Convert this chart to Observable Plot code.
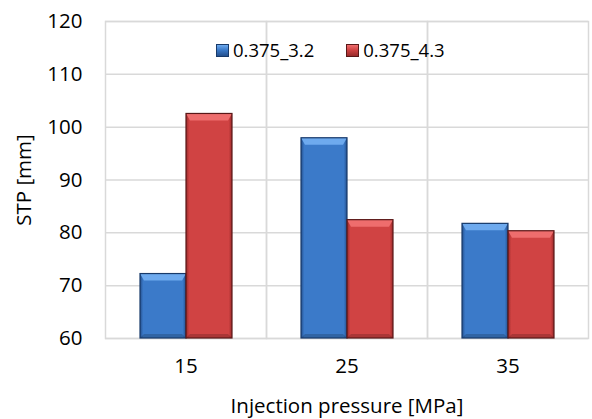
<!DOCTYPE html>
<html>
<head>
<meta charset="utf-8">
<script src="https://cdn.jsdelivr.net/npm/d3@7"></script>
<script src="https://cdn.jsdelivr.net/npm/@observablehq/plot@0.6"></script>
<style>
  body { margin: 0; background: #fff; }
  #wrap { position: relative; width: 592px; height: 419px; font-family: "Open Sans", sans-serif; }
  #legend { position: absolute; top: 37px; left: 216px; display: flex; gap: 32px; font-size: 18.5px; color: #000; line-height: 26px; }
  .item { display: flex; align-items: center; gap: 4px; }
  .sw { width: 13px; height: 13px; box-sizing: border-box; }
</style>
</head>
<body>
<div id="wrap"><div id="chart"></div><div id="legend"></div></div>
<script>
const pressures = ["15", "25", "35"];
const seriesNames = ["0.375_3.2", "0.375_4.3"];
const stp_3_2 = [72.2, 97.9, 81.7];
const stp_4_3 = [102.5, 82.4, 80.3];
const yTicks = [60, 70, 80, 90, 100, 110, 120];

const palette = {
  "0.375_3.2": {main: "#3b7ac9", light: "#6eaaee", dark: "#24508e", edge: "#183a6a", id: "gBlue"},
  "0.375_4.3": {main: "#d04343", light: "#ee6d6d", dark: "#992a2a", edge: "#5a1818", id: "gRed"}
};

const data = pressures.flatMap((p, i) => [
  {p, s: seriesNames[0], v: stp_3_2[i]},
  {p, s: seriesNames[1], v: stp_4_3[i]}
]);

const NS = "http://www.w3.org/2000/svg";
function defsMark() {
  const defs = document.createElementNS(NS, "defs");
  for (const s of seriesNames) {
    const c = palette[s];
    const g = document.createElementNS(NS, "linearGradient");
    g.setAttribute("id", c.id);
    g.setAttribute("x1", "0"); g.setAttribute("x2", "1");
    g.setAttribute("y1", "0"); g.setAttribute("y2", "0");
    [[0, c.dark], [0.07, c.main], [0.5, c.main], [0.93, c.main], [1, c.dark]].forEach(([o, col]) => {
      const st = document.createElementNS(NS, "stop");
      st.setAttribute("offset", o); st.setAttribute("stop-color", col);
      g.appendChild(st);
    });
    defs.appendChild(g);
  }
  return defs;
}

function addBevel(g, c) {
  const rects = Array.from(g.querySelectorAll("rect"));
  rects.forEach((r) => {
    const x = +r.getAttribute("x"), y = +r.getAttribute("y");
    const w = +r.getAttribute("width"), h = +r.getAttribute("height");
    const b = 7, side = 4;
    const top = document.createElementNS(NS, "polygon");
    top.setAttribute("points", `${x},${y} ${x + w},${y} ${x + w - side},${y + b} ${x + side},${y + b}`);
    top.setAttribute("fill", c.light);
    const bot = document.createElementNS(NS, "polygon");
    bot.setAttribute("points", `${x},${y + h} ${x + w},${y + h} ${x + w - side},${y + h - 4} ${x + side},${y + h - 4}`);
    bot.setAttribute("fill", "#000");
    bot.setAttribute("opacity", 0.18);
    g.appendChild(top);
    g.appendChild(bot);
    const outline = r.cloneNode();
    outline.setAttribute("fill", "none");
    outline.setAttribute("stroke", c.edge);
    outline.setAttribute("stroke-width", 1.2);
    g.appendChild(outline);
  });
  return g;
}

function seriesBars(s) {
  const c = palette[s];
  return Plot.barY(data.filter(d => d.s === s), {
    fx: "p", x: "s", y1: () => yTicks[0], y2: "v",
    fill: `url(#${c.id})`,
    render(index, scales, values, dimensions, context, next) {
      return addBevel(next(index, scales, values, dimensions, context), c);
    }
  });
}

const chart = Plot.plot({
  width: 592,
  height: 419,
  marginTop: 21,
  marginBottom: 81,
  marginLeft: 105,
  marginRight: 4,
  style: {fontFamily: "'Open Sans', sans-serif", fontSize: "20.5px", color: "#000", background: "transparent", overflow: "visible"},
  fx: {domain: pressures, padding: 0, label: "Injection pressure [MPa]", labelAnchor: "center", labelOffset: 74, tickSize: 0, tickPadding: 20},
  x: {domain: seriesNames, axis: null, paddingInner: 0, paddingOuter: 0.73},
  y: {domain: [60, 120], ticks: yTicks, label: "STP [mm]", labelAnchor: "center", labelArrow: "none", labelOffset: 89, tickSize: 0, tickPadding: 23},
  marks: [
    defsMark,
    Plot.gridY(yTicks, {stroke: "#d9d9d9", strokeOpacity: 1, strokeWidth: 1.5}),
    Plot.frame({stroke: "#d9d9d9", strokeWidth: 1.5}),
    ...seriesNames.map(seriesBars)
  ]
});
document.getElementById("chart").appendChild(chart);

const legend = document.getElementById("legend");
for (const s of seriesNames) {
  const c = palette[s];
  const item = document.createElement("div");
  item.className = "item";
  const sw = document.createElement("div");
  sw.className = "sw";
  sw.style.background = `linear-gradient(to bottom, ${c.light} 0%, ${c.main} 45%, ${c.dark} 100%)`;
  sw.style.border = `1px solid ${c.edge}`;
  const t = document.createElement("span");
  t.textContent = s;
  item.appendChild(sw); item.appendChild(t);
  legend.appendChild(item);
}
</script>
</body>
</html>
